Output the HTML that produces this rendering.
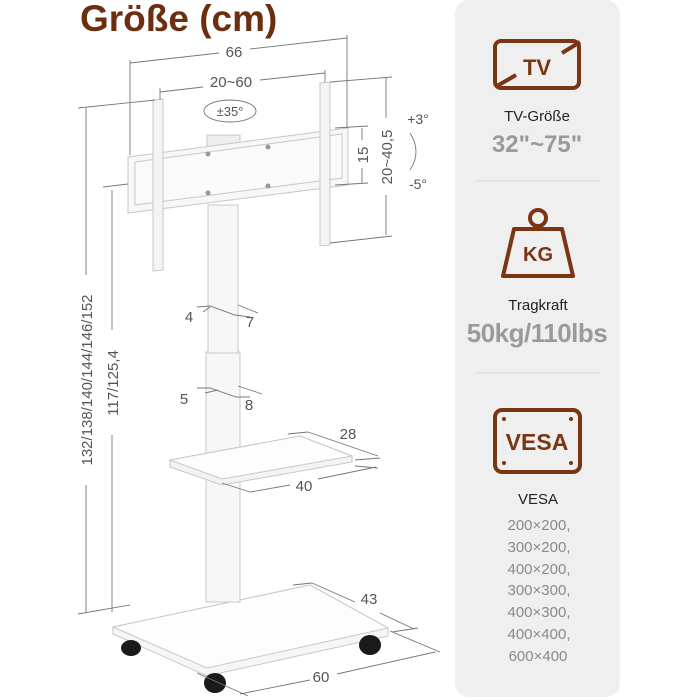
<!DOCTYPE html>
<html><head><meta charset="utf-8"><style>
html,body{margin:0;padding:0;background:#fff;}
svg{display:block;}
text{font-family:"Liberation Sans",sans-serif;}
</style></head><body>
<svg width="700" height="700" viewBox="0 0 700 700" xmlns="http://www.w3.org/2000/svg">
<!-- right panel -->
<rect x="455" y="0" width="165" height="697" rx="14" fill="#efefef"/>
<line x1="475" y1="181" x2="600" y2="181" stroke="#cfdcd8" stroke-width="1"/>
<line x1="475" y1="373" x2="600" y2="373" stroke="#cfdcd8" stroke-width="1"/>
<!-- TV icon -->
<rect x="495" y="41" width="84" height="47" rx="6" fill="none" stroke="#7a3512" stroke-width="4"/>
<line x1="499" y1="84" x2="514" y2="75" stroke="#efefef" stroke-width="6"/>
<line x1="497" y1="86" x2="516" y2="75" stroke="#7a3512" stroke-width="4"/>
<line x1="562" y1="53" x2="580" y2="42" stroke="#7a3512" stroke-width="4"/>
<text x="537" y="75" font-size="22" font-weight="bold" fill="#7a3512" text-anchor="middle">TV</text>
<text x="537" y="121" font-size="15" fill="#222" text-anchor="middle">TV-Größe</text>
<text x="537" y="152" font-size="24" font-weight="bold" fill="#9a9a9a" text-anchor="middle">32"~75"</text>
<!-- KG icon -->
<circle cx="538" cy="218" r="8" fill="none" stroke="#7a3512" stroke-width="4"/>
<path d="M514 229 L562 229 L573 276 L503 276 Z" fill="none" stroke="#7a3512" stroke-width="4" stroke-linejoin="round"/>
<text x="538" y="261" font-size="20" font-weight="bold" fill="#7a3512" text-anchor="middle">KG</text>
<text x="538" y="310" font-size="15" fill="#222" text-anchor="middle">Tragkraft</text>
<text x="537" y="342" font-size="26" font-weight="bold" fill="#9a9a9a" text-anchor="middle" letter-spacing="-0.5">50kg/110lbs</text>
<!-- VESA icon -->
<rect x="495" y="410" width="85" height="62" rx="7" fill="none" stroke="#7a3512" stroke-width="4"/>
<circle cx="504" cy="419" r="2" fill="#7a3512"/><circle cx="571" cy="419" r="2" fill="#7a3512"/>
<circle cx="504" cy="463" r="2" fill="#7a3512"/><circle cx="571" cy="463" r="2" fill="#7a3512"/>
<text x="537" y="450" font-size="23" font-weight="bold" fill="#7a3512" text-anchor="middle">VESA</text>
<text x="538" y="504" font-size="15" fill="#222" text-anchor="middle">VESA</text>
<g font-size="15" fill="#8a8a8a" text-anchor="middle">
<text x="539" y="530">200×200,</text><text x="539" y="552">300×200,</text>
<text x="539" y="574">400×200,</text><text x="539" y="595">300×300,</text>
<text x="539" y="617">400×300,</text><text x="539" y="639">400×400,</text>
<text x="538" y="661">600×400</text>
</g>
<!-- title -->
<text x="80" y="31" font-size="37" font-weight="bold" fill="#6b2e0f">Größe (cm)</text>

<!-- stand drawing -->
<g stroke="#c8c8c8" stroke-width="1" fill="#fbfbfb">
<path d="M113 627 L310 585 L388 628 L388 636 L207 676 L113 634 Z" fill="#f6f6f6"/>
<path d="M113 627 L310 585 L388 628 L207 668 Z" fill="#fdfdfd"/>
<rect x="206" y="352" width="34" height="250" fill="#f7f7f7"/>
<rect x="208" y="205" width="30" height="148" fill="#f7f7f7"/>
<path d="M170 460 L300 436 L352 456 L352 462 L222 485 L170 467 Z" fill="#f3f3f3"/>
<path d="M170 460 L300 436 L352 456 L222 479 Z" fill="#fdfdfd"/>
<rect x="207" y="135" width="33" height="12" fill="#eee"/>
<path d="M128 157 L348 128 L348 185 L128 213 Z" fill="#f7f7f7"/>
<path d="M135 162 L342 134 L342 178 L135 205 Z" fill="#fafafa"/>
<path d="M153 100 L163 99 L163 270 L153 271 Z" fill="#f4f4f4"/>
<path d="M320 83 L330 82 L330 245 L320 246 Z" fill="#f4f4f4"/>
</g>
<g fill="#999"><circle cx="208" cy="154" r="2.5"/><circle cx="268" cy="147" r="2.5"/><circle cx="208" cy="193" r="2.5"/><circle cx="268" cy="186" r="2.5"/></g>
<g fill="#1a1a1a"><ellipse cx="131" cy="648" rx="10" ry="8"/><ellipse cx="370" cy="645" rx="11" ry="10"/><ellipse cx="215" cy="683" rx="11" ry="10"/></g>

<g stroke="#777" stroke-width="0.9" fill="none">
<line x1="130" y1="63" x2="219" y2="53"/><line x1="250" y1="49" x2="347" y2="38"/>
<line x1="130" y1="60" x2="130" y2="155"/><line x1="347" y1="35" x2="347" y2="128"/>
<line x1="160" y1="92" x2="203" y2="87"/><line x1="260" y1="80" x2="325" y2="73"/>
<line x1="160" y1="88" x2="160" y2="100"/><line x1="325" y1="70" x2="325" y2="82"/>
<ellipse cx="230" cy="111" rx="26" ry="11"/>
<line x1="335" y1="128" x2="368" y2="126"/><line x1="335" y1="185" x2="368" y2="183"/>
<line x1="362" y1="128" x2="362" y2="140"/><line x1="362" y1="168" x2="362" y2="183"/>
<line x1="330" y1="82" x2="392" y2="77"/><line x1="330" y1="243" x2="392" y2="236"/>
<line x1="386" y1="78" x2="386" y2="118"/><line x1="386" y1="195" x2="386" y2="235"/>
<path d="M410 133 Q422 152 410 170"/>
<line x1="78" y1="108" x2="155" y2="100"/><line x1="86" y1="108" x2="86" y2="275"/><line x1="86" y1="485" x2="86" y2="612"/>
<line x1="78" y1="614" x2="130" y2="605"/>
<line x1="103" y1="187" x2="128" y2="184"/><line x1="112" y1="190" x2="112" y2="330"/><line x1="112" y1="435" x2="112" y2="612"/>
<path d="M197 307 L210 306 L235 315 L250 317"/><path d="M203 312 L210 307"/><path d="M238 305 L258 313"/>
<path d="M197 388 L210 388 L236 397 L250 397"/><path d="M205 393 L218 390"/><path d="M238 386 L262 394"/>
<line x1="288" y1="434" x2="308" y2="432"/><line x1="308" y1="432" x2="378" y2="456"/><line x1="355" y1="460" x2="380" y2="458"/>
<line x1="222" y1="483" x2="250" y2="492"/><line x1="250" y1="492" x2="290" y2="485"/><line x1="318" y1="479" x2="376" y2="467"/><line x1="355" y1="466" x2="378" y2="468"/>
<line x1="293" y1="585" x2="312" y2="583"/><line x1="312" y1="583" x2="355" y2="602"/><line x1="380" y1="613" x2="414" y2="629"/><line x1="390" y1="631" x2="440" y2="652"/><line x1="392" y1="632" x2="418" y2="628"/>
<line x1="197" y1="673" x2="248" y2="696"/><line x1="240" y1="694" x2="310" y2="680"/><line x1="337" y1="674" x2="435" y2="652"/>
</g>
<g font-size="15" fill="#555" text-anchor="middle">
<text x="234" y="57">66</text>
<text x="231" y="87">20~60</text>
<text x="230" y="116" font-size="13">±35°</text>
<text x="418" y="124" font-size="14">+3°</text>
<text x="418" y="189" font-size="14">-5°</text>
<text transform="translate(368,155) rotate(-90)">15</text>
<text transform="translate(392,157) rotate(-90)">20~40,5</text>
<text transform="translate(92,380) rotate(-90)">132/138/140/144/146/152</text>
<text transform="translate(118,383) rotate(-90)">117/125,4</text>
<text x="189" y="322">4</text><text x="250" y="327">7</text>
<text x="184" y="404">5</text><text x="249" y="410">8</text>
<text x="348" y="439">28</text>
<text x="304" y="491">40</text>
<text x="369" y="604">43</text>
<text x="321" y="682">60</text>
</g>
</svg>
</body></html>
